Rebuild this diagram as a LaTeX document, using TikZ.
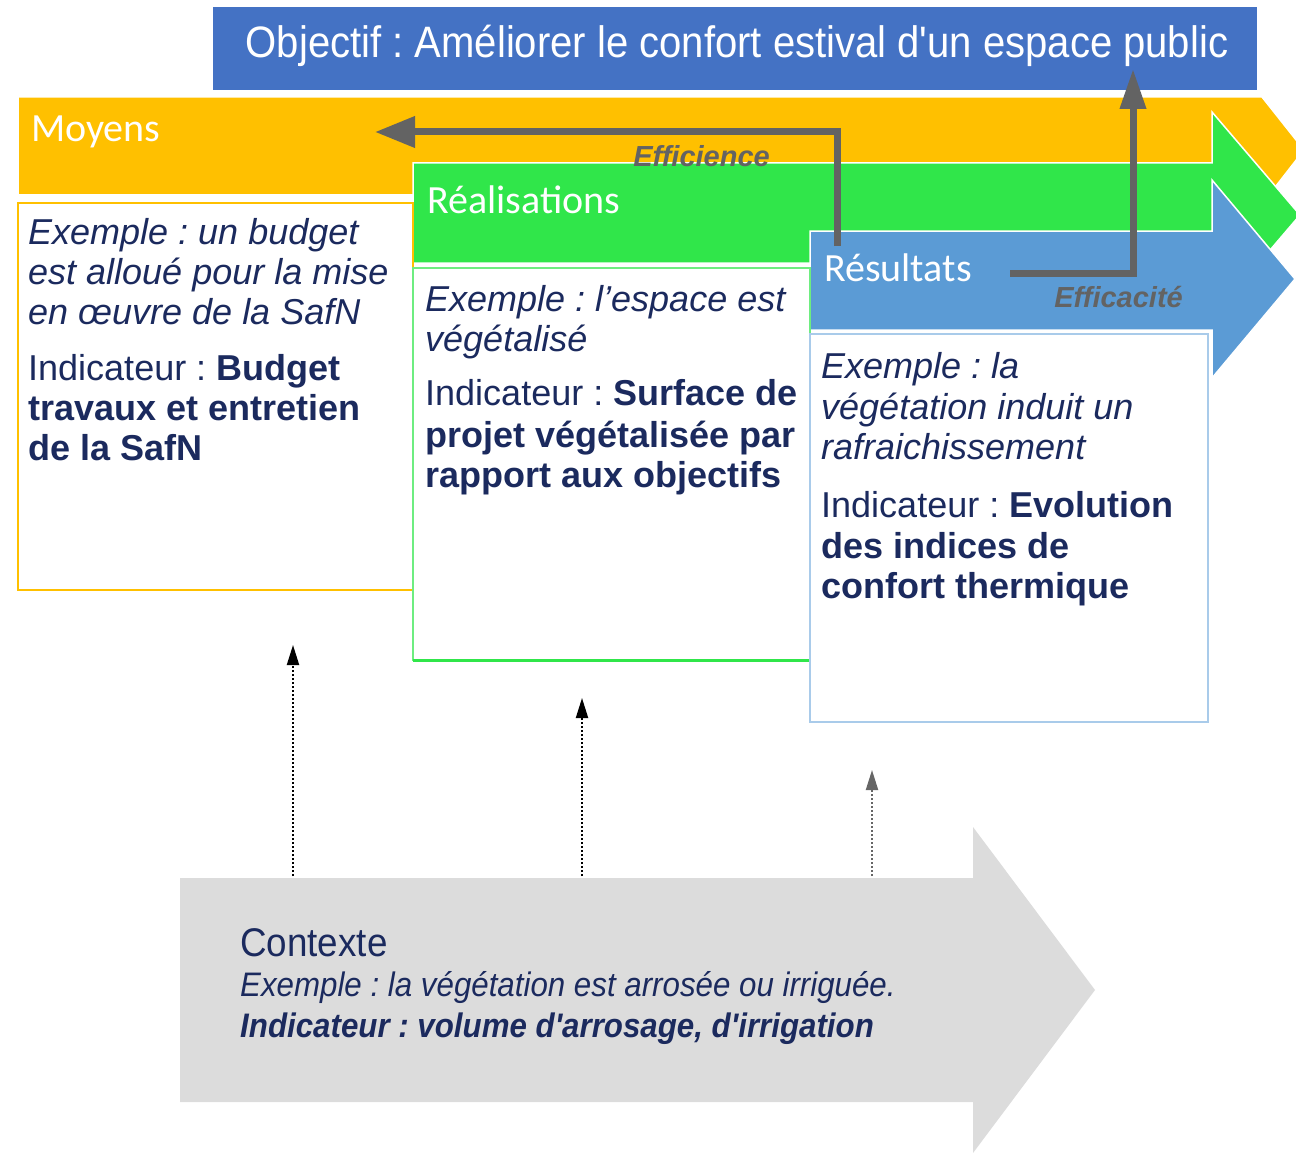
\documentclass[tikz,border=0pt]{standalone}
\usepackage{fontspec}
\setmainfont{Liberation Sans}
\newfontfamily\narrowf{Liberation Sans}[FakeStretch=0.91]
\newfontfamily\ctxf{Liberation Sans}[FakeStretch=0.92]
\newfontfamily\calib{Carlito}
\usetikzlibrary{arrows.meta}
\frenchspacing
\definecolor{objblue}{HTML}{4472C4}
\definecolor{moyorange}{HTML}{FFC000}
\definecolor{realgreen}{HTML}{30E64A}
\definecolor{resblue}{HTML}{5B9BD5}
\definecolor{resline}{HTML}{A9CBEA}
\definecolor{ctxgray}{HTML}{DCDCDC}
\definecolor{navy}{HTML}{1B2A5E}
\definecolor{arrgray}{HTML}{636363}
\begin{document}
\begin{tikzpicture}[x=1pt,y=-1pt,
  band/.style={draw=white,line width=1.5pt},
  bandlabel/.style={anchor=base west,inner sep=0pt,text=white,font=\calib\fontsize{40}{44}\selectfont},
  boxtext/.style={anchor=north west,inner sep=0pt,align=left,text=navy,font=\fontsize{36}{40}\selectfont},
  ctxtext/.style={anchor=base west,inner sep=0pt,text=navy},
  flow/.style={draw=arrgray,line width=7pt,-{Triangle[length=40pt,width=30pt]}},
  flowlabel/.style={inner sep=0pt,text=arrgray,font=\bfseries\itshape\fontsize{29}{32}\selectfont},
  dotarrow/.style={draw=black,line width=2pt,dash pattern=on 2pt off 2pt,-{Triangle[length=20pt,width=12pt]}}
]
\useasboundingbox (0,0) rectangle (1296,1153);
\begin{scope}
\clip (0,0) rectangle (1296,1153);
% Objectif
\fill[objblue] (213,7) rectangle (1257,90);
\node[anchor=base,inner sep=0pt,text=white,font=\narrowf\fontsize{44}{48}\selectfont] (obj) at (737,58) {Objectif : Améliorer le confort estival d'un espace public};
% bands
\path[band,fill=moyorange] (18,97) -- (1262,97) -- (1304,150) -- (1262,204) -- (18,204) -- cycle;
\path[band,fill=realgreen] (413,163) -- (1212,163) -- (1212,112) -- (1300,215) -- (1212,318) -- (1212,263) -- (413,263) -- cycle;
\path[band,fill=resblue] (810,231) -- (1212,231) -- (1212,180) -- (1295,279) -- (1212,378) -- (1212,330) -- (810,330) -- cycle;
% white gap under orange band
\fill[white] (18,194) rectangle (413,202);
% boxes
\draw[moyorange,line width=1.5pt,fill=white] (18,203) rectangle (413,590);
\draw[realgreen!70,line width=1.5pt,fill=white] (413,268) rectangle (810,660);
\draw[realgreen,line width=3pt] (413,660) -- (810,660);
\draw[resline,line width=1.5pt,fill=white] (810,334) rectangle (1208,722);
% band labels
\node[bandlabel] (moy) at (31,142) {Moyens};
\node[bandlabel] (real) at (427,213) {Réalisations};
\node[bandlabel] (res) at (824,281) {Résultats};
% box texts
\node[boxtext] (moytxt) at (28,218) {\itshape Exemple : un budget\\\itshape est alloué pour la mise\\[0pt]\itshape en œuvre de la SafN\\[16pt]Indicateur : \textbf{Budget}\\\textbf{travaux et entretien}\\\textbf{de la SafN}};
\node[boxtext] (realtxt) at (425,285) {\itshape Exemple : l'espace est\\\itshape végétalisé\\[14pt]Indicateur : \textbf{Surface de}\\[2pt]\textbf{projet végétalisée par}\\\textbf{rapport aux objectifs}};
\node[boxtext] (restxt) at (821,352) {\itshape Exemple : la\\[1pt]\itshape végétation induit un\\\itshape rafraichissement\\[18pt]Indicateur : \textbf{Evolution}\\[1pt]\textbf{des indices de}\\\textbf{confort thermique}};
% flows
\coordinate (effS) at (837,246);
\coordinate (effE) at (375,132);
\draw[flow] (effS) |- (effE);
\node[flowlabel,anchor=base east] (effl) at (770,167) {Efficience};
\coordinate (efcS) at (1010,273);
\coordinate (efcE) at (1133,69);
\draw[draw=arrgray,line width=7pt,-{Triangle[length=40pt,width=25pt]}] (efcS) -| (efcE);
\node[flowlabel,anchor=base east] (efcl) at (1183,307) {Efficacité};
% context arrow
\fill[ctxgray] (180,878) -- (973,878) -- (973,827) -- (1095,990) -- (973,1153) -- (973,1102) -- (180,1102) -- cycle;
\node[ctxtext,font=\ctxf\fontsize{40}{44}\selectfont] (ctx) at (240,956) {Contexte};
\node[ctxtext,font=\ctxf\itshape\fontsize{34}{40}\selectfont] (ctxex) at (240,996) {Exemple : la végétation est arrosée ou irriguée.};
\node[ctxtext,font=\ctxf\bfseries\itshape\fontsize{34}{40}\selectfont] (ctxind) at (240,1037) {Indicateur : volume d'arrosage, d'irrigation};
% dotted arrows
\coordinate (d1s) at (293,876); \coordinate (d1e) at (293,645);
\coordinate (d2s) at (582,876); \coordinate (d2e) at (582,698);
\coordinate (d3s) at (872,876); \coordinate (d3e) at (872,770);
\draw[dotarrow] (d1s) -- (d1e);
\draw[dotarrow] (d2s) -- (d2e);
\draw[dotarrow,draw=black!60] (d3s) -- (d3e);
\end{scope}
\end{tikzpicture}
\end{document}
